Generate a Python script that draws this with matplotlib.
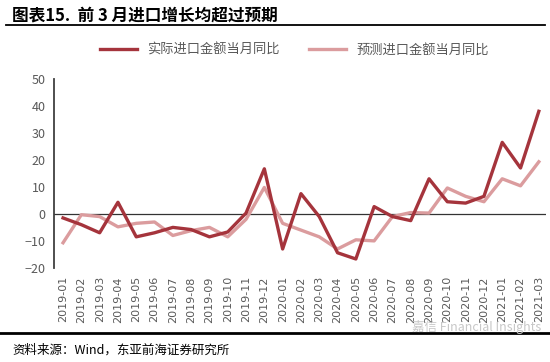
import numpy as np
import matplotlib.pyplot as plt
from matplotlib.lines import Line2D

plt.rcParams['font.family'] = ['Noto Sans CJK SC', 'DejaVu Sans']

months = ['2019-01', '2019-02', '2019-03', '2019-04', '2019-05', '2019-06',
          '2019-07', '2019-08', '2019-09', '2019-10', '2019-11', '2019-12',
          '2020-01', '2020-02', '2020-03', '2020-04', '2020-05', '2020-06',
          '2020-07', '2020-08', '2020-09', '2020-10', '2020-11', '2020-12',
          '2021-01', '2021-02', '2021-03']
actual = [-1.5, -4.0, -7.0, 4.3, -8.5, -7.0, -5.0, -5.8, -8.5, -6.7, 0.3, 16.7,
          -13.0, 7.5, -1.0, -14.4, -16.7, 2.7, -1.0, -2.5, 13.0, 4.5, 4.0, 6.5,
          26.5, 17.0, 38.0]
predicted = [-10.7, -0.3, -1.0, -4.8, -3.5, -3.0, -8.0, -6.2, -5.0, -8.5, -2.0, 9.8,
             -3.5, -6.0, -8.5, -13.0, -9.6, -10.0, -1.0, 0.5, 0.3, 9.6, 6.5, 4.5,
             13.0, 10.4, 19.3]
yticks = [-20, -10, 0, 10, 20, 30, 40, 50]

c_act = '#A5343C'
c_pre = '#DB9C9E'
gray = '#595959'

fig = plt.figure(figsize=(5.5, 3.62), dpi=100)
ax = fig.add_axes([0.098, 0.26, 0.895, 0.522])

x = np.arange(len(months))
ax.plot(x, predicted, color=c_pre, lw=2.4, label='预测进口金额当月同比', zorder=3)
ax.plot(x, actual, color=c_act, lw=2.4, label='实际进口金额当月同比', zorder=4)
ax.axhline(0, color='#333333', lw=0.9, zorder=2)

ax.set_xlim(-0.5, 26.4)
ax.set_ylim(-20, 50)
ax.set_yticks(yticks)
ax.set_xticks(x)
ax.set_xticklabels(months, rotation=90, fontsize=8, color=gray, family='DejaVu Sans')
ax.tick_params(axis='y', labelsize=9, colors=gray, length=0, pad=6)
ax.tick_params(axis='x', length=0, pad=6)
for s in ['top', 'right', 'bottom']:
    ax.spines[s].set_visible(False)
ax.spines['left'].set_color('#404040')
ax.spines['left'].set_linewidth(1.3)

handles = [Line2D([], [], color=c_act, lw=2.4), Line2D([], [], color=c_pre, lw=2.4)]
fig.legend(handles, ['实际进口金额当月同比', '预测进口金额当月同比'],
           loc='center', bbox_to_anchor=(0.535, 0.862), ncol=2, frameon=False,
           fontsize=9.5, labelcolor=gray, handlelength=2.8, columnspacing=2.2)

fig.text(0.022, 0.958, '图表15.  前 3 月进口增长均超过预期', fontsize=12,
         fontweight='bold', va='center', ha='left', color='black')
fig.add_artist(Line2D([0.01, 0.99], [0.93, 0.93], color='black', lw=1.3))
fig.add_artist(Line2D([0.0, 1.0], [0.08, 0.08], color='black', lw=2.0))
fig.text(0.022, 0.033, '资料来源：Wind，东亚前海证券研究所', fontsize=9,
         va='center', ha='left', color='black')
fig.text(0.985, 0.097, '嘉信 Financial Insights', fontsize=9, color='#c8c8c8',
         va='center', ha='right')

fig.savefig('out.png', dpi=100)
